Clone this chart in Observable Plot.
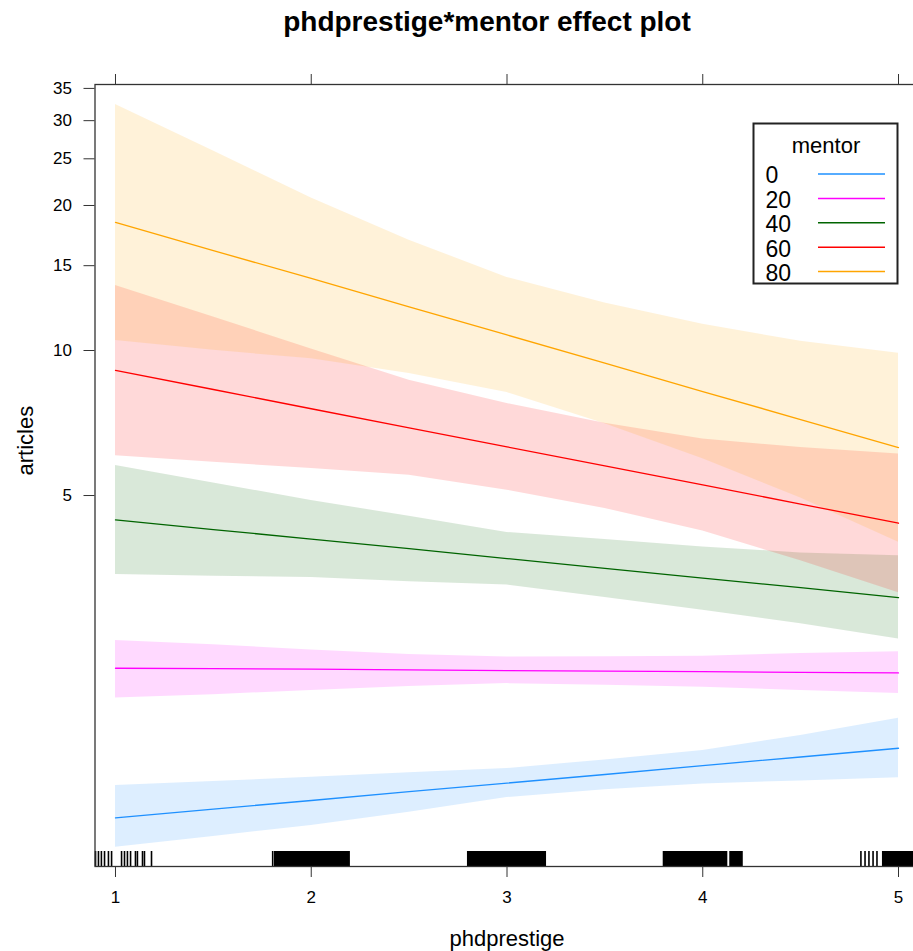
<!DOCTYPE html>
<html>
<head>
<meta charset="utf-8">
<script src="https://cdn.jsdelivr.net/npm/d3@7"></script>
<script src="https://cdn.jsdelivr.net/npm/@observablehq/plot@0.6"></script>
<style>
  html, body { margin: 0; padding: 0; background: white; overflow: hidden; }
  #chart { position: relative; width: 913px; height: 951px; overflow: hidden; }
  #chart svg { max-width: none !important; }
</style>
</head>
<body>
<div id="chart"></div>
<script>
// ---- data ----
const titleText = "phdprestige*mentor effect plot";
const xLabel = "phdprestige";
const yLabel = "articles";
const legendTitle = "mentor";

const phdprestige = [1, 1.5, 2, 2.5, 3, 3.5, 4, 4.5, 5];
const mentorLevels = ["0", "20", "40", "60", "80"];
const mentorColors = ["#1E90FF", "#FF00FF", "#006400", "#FF0000", "#FFA500"];

const fit0   = [1.071, 1.117, 1.164, 1.214, 1.265, 1.318, 1.375, 1.433, 1.494];
const lower0 = [0.931, 0.980, 1.033, 1.100, 1.180, 1.225, 1.260, 1.278, 1.297];
const upper0 = [1.250, 1.274, 1.301, 1.329, 1.356, 1.413, 1.478, 1.588, 1.725];

const fit20   = [2.190, 2.185, 2.180, 2.173, 2.166, 2.160, 2.154, 2.148, 2.142];
const lower20 = [1.900, 1.930, 1.970, 2.006, 2.035, 2.020, 2.000, 1.970, 1.940];
const upper20 = [2.500, 2.450, 2.390, 2.340, 2.310, 2.315, 2.320, 2.350, 2.370];

const fit40   = [4.45, 4.25, 4.06, 3.88, 3.70, 3.53, 3.37, 3.22, 3.07];
const lower40 = [3.43, 3.40, 3.38, 3.31, 3.26, 3.07, 2.89, 2.71, 2.52];
const upper40 = [5.77, 5.31, 4.88, 4.53, 4.19, 4.05, 3.91, 3.80, 3.75];

const fit60   = [9.09, 8.30, 7.57, 6.91, 6.31, 5.76, 5.26, 4.80, 4.38];
const lower60 = [6.05, 5.86, 5.69, 5.51, 5.13, 4.70, 4.22, 3.66, 3.14];
const upper60 = [13.65, 11.74, 10.07, 8.67, 7.76, 7.06, 6.55, 6.29, 6.10];

const fit80   = [18.44, 16.12, 14.11, 12.32, 10.77, 9.41, 8.22, 7.19, 6.29];
const lower80 = [10.49, 10.01, 9.61, 8.96, 8.18, 7.05, 5.96, 4.94, 4.00];
const upper80 = [32.41, 25.95, 20.72, 16.94, 14.18, 12.55, 11.34, 10.45, 9.87];

const xTicks = [1, 2, 3, 4, 5];
const yTicks = [5, 10, 15, 20, 25, 30, 35];

// rug of observed phdprestige values (single ticks and dense runs)
const rugTicks = [0.898, 0.913, 0.928, 0.944, 0.964, 0.980, 1.031, 1.046, 1.061, 1.077,
                  1.102, 1.112, 1.138, 1.148, 1.184, 1.803,
                  4.808, 4.829, 4.849, 4.870, 4.890];
const rugRunStart = [1.812, 2.798, 3.798, 4.138, 4.918];
const rugRunEnd   = [2.200, 3.202, 4.128, 4.207, 5.11];

// ---- build tables ----
const fits = [fit0, fit20, fit40, fit60, fit80];
const lowers = [lower0, lower20, lower40, lower60, lower80];
const uppers = [upper0, upper20, upper40, upper60, upper80];
const rows = [];
mentorLevels.forEach((m, i) => {
  phdprestige.forEach((x, j) => {
    rows.push({mentor: m, phdprestige: x, fit: fits[i][j], lower: lowers[i][j], upper: uppers[i][j]});
  });
});
const runs = rugRunStart.map((s, i) => ({x1: s, x2: rugRunEnd[i]}));

const W = 920, H = 951;
const mL = 94.5, mR = 1.5, mT = 84, mB = 85;
const font = "'Liberation Sans', Arial, sans-serif";

const chart = Plot.plot({
  width: W, height: H,
  marginLeft: mL, marginRight: mR, marginTop: mT, marginBottom: mB,
  style: {fontFamily: font, background: "white", color: "#000", maxWidth: "none"},
  x: {domain: [0.8953, 5.1047]},
  y: {type: "log", domain: [0.849, 35.66]},
  color: {domain: mentorLevels, range: mentorColors},
  marks: [
    Plot.areaY(rows, {x: "phdprestige", y1: "lower", y2: "upper", z: "mentor", fill: "mentor", fillOpacity: 0.15}),
    Plot.line(rows, {x: "phdprestige", y: "fit", z: "mentor", stroke: "mentor", strokeWidth: 1.3}),
    Plot.ruleX(rugTicks, {x: d => d, insetTop: 767, stroke: "black", strokeWidth: 1.6}),
    Plot.rect(runs, {x1: "x1", x2: "x2", insetTop: 767, fill: "black"}),
    Plot.frame({stroke: "#333", strokeWidth: 1.3}),
    Plot.axisY({ticks: yTicks, tickSize: 11, tickPadding: 12, fontSize: 17, tickFormat: d => String(d), label: null, stroke: "#333"}),
    Plot.axisX({anchor: "bottom", ticks: xTicks, tickSize: 11, tickPadding: 13, fontSize: 17, tickFormat: d => String(d), label: null, stroke: "#333"}),
    Plot.axisX({anchor: "top", ticks: xTicks, tickSize: 11, tickFormat: () => "", label: null, stroke: "#333"}),
    Plot.text([titleText], {frameAnchor: "top", dx: -20, dy: -54, lineAnchor: "bottom", fontSize: 28, fontWeight: "bold"}),
    Plot.text([xLabel], {frameAnchor: "bottom", dy: 79, lineAnchor: "bottom", fontSize: 22}),
    Plot.text([yLabel], {frameAnchor: "left", dx: -69.5, rotate: -90, lineAnchor: "middle", fontSize: 22})
  ]
});

document.getElementById("chart").appendChild(chart);

// ---- legend (inside the panel, top right) ----
const svg = d3.select(chart);
const lg = svg.append("g").attr("font-family", font).attr("text-anchor", "start");
lg.append("rect").attr("x", 753.5).attr("y", 123.5).attr("width", 144).attr("height", 160)
  .attr("fill", "white").attr("stroke", "#222").attr("stroke-width", 2);
lg.append("text").attr("x", 826).attr("y", 153).attr("text-anchor", "middle")
  .attr("font-size", 22).attr("fill", "#000").text(legendTitle);
mentorLevels.forEach((m, i) => {
  lg.append("text").attr("x", 765.5).attr("y", 183 + 24.6 * i).attr("font-size", 23)
    .attr("text-anchor", "start").attr("fill", "#000").text(m);
  lg.append("line").attr("x1", 818).attr("x2", 885)
    .attr("y1", 174 + 24.4 * i).attr("y2", 174 + 24.4 * i)
    .attr("stroke", mentorColors[i]).attr("stroke-width", 1.5);
});
</script>
</body>
</html>
